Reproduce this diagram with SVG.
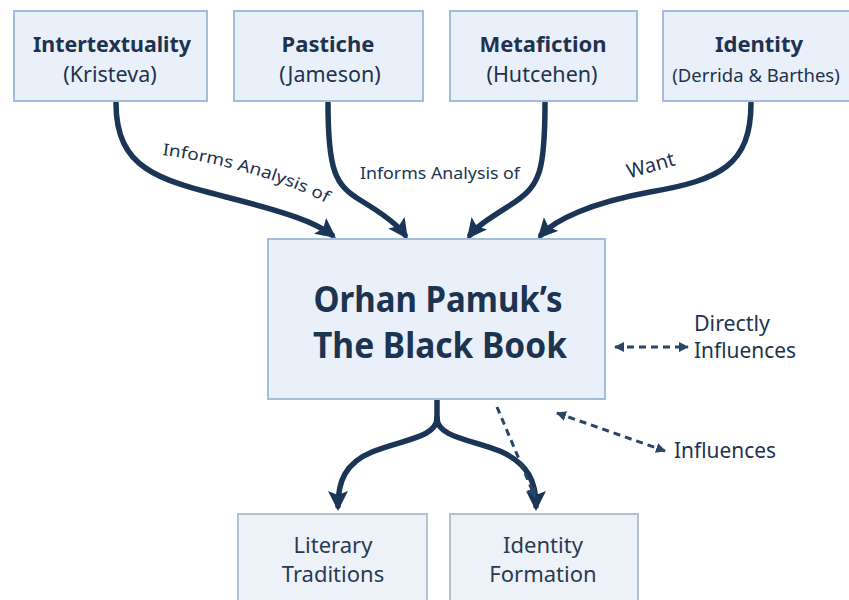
<svg xmlns="http://www.w3.org/2000/svg" width="849" height="600" viewBox="0 0 849 600">
<style>
.box{fill:#e9f0f9;stroke:#a3bddc;stroke-width:2}
.box2{fill:#edf2f8;stroke:#b4c2d2;stroke-width:2}
.t{font-family:"Noto Sans","DejaVu Sans",sans-serif;fill:#1e3350}
.b{font-weight:bold;font-size:22px}
.s{font-size:21.5px}
.bt{font-size:22px;fill:#2a3a52}
.main{font-size:36px;font-weight:bold;fill:#1c3352}
.conn{fill:none;stroke:#1b3557;stroke-width:5.5;stroke-linecap:round}
.dash{fill:none;stroke:#2a4566;stroke-width:3;stroke-dasharray:7 5}
.lab{font-family:"Noto Sans","DejaVu Sans",sans-serif;fill:#1e3350;font-size:16.5px}
</style>
<defs>
<marker id="ah" markerUnits="userSpaceOnUse" markerWidth="22" markerHeight="22" refX="15" refY="10" orient="auto">
<path d="M0,0 L20,10 L0,20 L4,10 z" fill="#1b3557"/>
</marker>
<marker id="sh" markerUnits="userSpaceOnUse" markerWidth="12" markerHeight="12" refX="9" refY="5" orient="auto-start-reverse">
<path d="M0,0 L10,5 L0,10 z" fill="#2a4566"/>
</marker>
</defs>
<rect width="849" height="600" fill="#ffffff"/>

<g id="connectors">
<path class="conn" marker-end="url(#ah)" d="M116,103 C116,170 160,180 230,198 C285,212 315,222 332,235"/>
<path class="conn" marker-end="url(#ah)" d="M328,103 C328,170 335,185 360,200 C385,215 398,225 405,235"/>
<path class="conn" marker-end="url(#ah)" d="M545,103 C545,170 540,185 515,202 C492,217 478,225 470,235"/>
<path class="conn" marker-end="url(#ah)" d="M751,103 C751,165 720,180 650,192 C590,203 555,220 541,235"/>
<path class="conn" d="M437,400 L437,418"/>
<path class="conn" marker-end="url(#ah)" d="M437,418 C437,438 400,440 372,452 C345,463 338,482 338,506"/>
<path class="conn" marker-end="url(#ah)" d="M437,418 C437,438 475,440 502,452 C528,464 536,482 536,506"/>
<path class="dash" marker-end="url(#sh)" d="M497,407 L535,497"/>
<path class="dash" marker-start="url(#sh)" marker-end="url(#sh)" d="M615,347 L688,347"/>
<path class="dash" marker-start="url(#sh)" marker-end="url(#sh)" d="M557,413 L665,451"/>
<path id="tp1" d="M162,155 C215,162 280,178 330,205" fill="none"/>
<text class="lab"><textPath href="#tp1" startOffset="0" textLength="172" lengthAdjust="spacingAndGlyphs">Informs Analysis of</textPath></text>
<text class="lab" x="360" y="179" textLength="160" lengthAdjust="spacingAndGlyphs">Informs Analysis of</text>
<text class="lab" x="651" y="172" text-anchor="middle" style="font-size:20px" transform="rotate(-16 651 166)">Want</text>
</g>

<g id="n1">
<rect class="box" x="14" y="11" width="193" height="90"/>
<text class="t b" x="112" y="52" text-anchor="middle" textLength="158" lengthAdjust="spacingAndGlyphs">Intertextuality</text>
<text class="t s" x="110" y="82" text-anchor="middle">(Kristeva)</text>
</g>
<g id="n2">
<rect class="box" x="234" y="11" width="189" height="90"/>
<text class="t b" x="328" y="52" text-anchor="middle">Pastiche</text>
<text class="t s" x="330" y="82" text-anchor="middle">(Jameson)</text>
</g>
<g id="n3">
<rect class="box" x="450" y="11" width="187" height="90"/>
<text class="t b" x="543" y="52" text-anchor="middle">Metafiction</text>
<text class="t s" x="542" y="82" text-anchor="middle">(Hutcehen)</text>
</g>
<g id="n4">
<rect class="box" x="663" y="11" width="196" height="90"/>
<text class="t b" x="759" y="52" text-anchor="middle">Identity</text>
<text class="t" x="756" y="82" text-anchor="middle" font-size="18.5">(Derrida &amp; Barthes)</text>
</g>
<g id="center">
<rect class="box" x="268" y="239" width="337" height="160"/>
<text class="t main" x="438" y="312" text-anchor="middle" textLength="249" lengthAdjust="spacingAndGlyphs">Orhan Pamuk’s</text>
<text class="t main" x="440" y="358" text-anchor="middle" textLength="254" lengthAdjust="spacingAndGlyphs">The Black Book</text>
</g>
<g id="directly">
<text class="t" x="694" y="331" font-size="21" textLength="76" lengthAdjust="spacingAndGlyphs">Directly</text>
<text class="t" x="694" y="358" font-size="21" textLength="102" lengthAdjust="spacingAndGlyphs">Influences</text>
</g>
<g id="influences">
<text class="t" x="674" y="458" font-size="21" textLength="102" lengthAdjust="spacingAndGlyphs">Influences</text>
</g>
<g id="n5">
<rect class="box2" x="238" y="514" width="189" height="100"/>
<text class="t bt" x="333" y="553" text-anchor="middle">Literary</text>
<text class="t bt" x="333" y="582" text-anchor="middle">Traditions</text>
</g>
<g id="n6">
<rect class="box2" x="450" y="514" width="188" height="100"/>
<text class="t bt" x="543" y="553" text-anchor="middle">Identity</text>
<text class="t bt" x="543" y="582" text-anchor="middle">Formation</text>
</g>
</svg>
